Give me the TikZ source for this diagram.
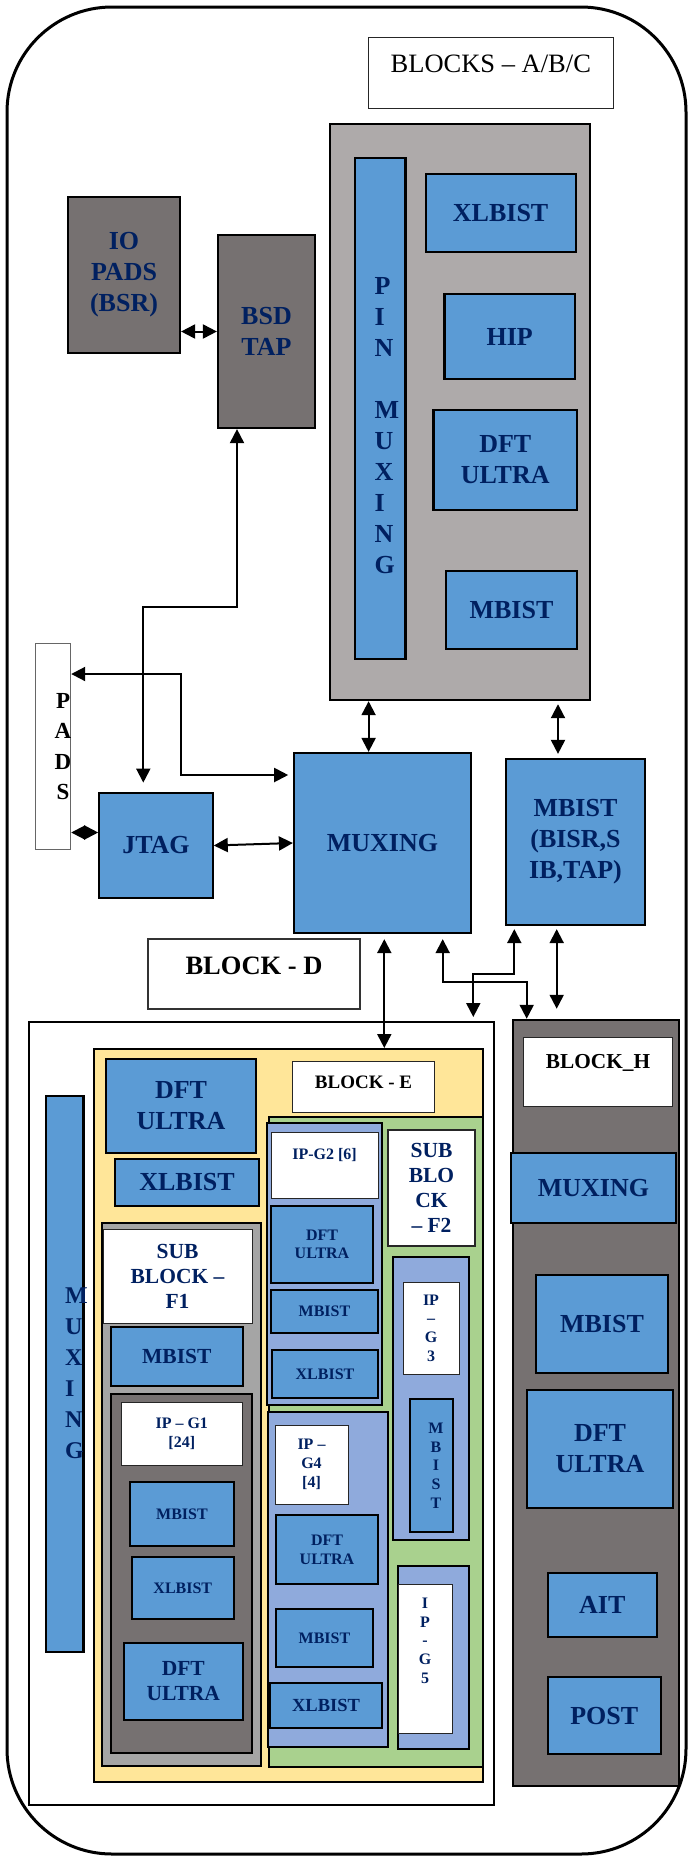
\documentclass[tikz,border=0pt]{standalone}
\usepackage{fontspec}
\setmainfont{Liberation Serif}
\usepackage{xcolor}
\usepackage{tikz}
\usetikzlibrary{arrows.meta, positioning, calc}

\definecolor{boxblue}{HTML}{5B9BD5}
\definecolor{navy}{HTML}{002060}
\definecolor{darkgrey}{HTML}{767171}
\definecolor{abcgrey}{HTML}{AEAAAA}
\definecolor{subgrey}{HTML}{A5A5A5}
\definecolor{blockyellow}{HTML}{FFE699}
\definecolor{blockgreen}{HTML}{A9D18E}
\definecolor{ipblue}{HTML}{8FAADC}

\tikzset{
    txtbig/.style={font=\bfseries\fontsize{26}{31}\selectfont, text=navy, inner sep=0pt},
    txtmid/.style={font=\bfseries\fontsize{21.5}{25}\selectfont, text=navy, inner sep=0pt},
    txtsmall/.style={font=\bfseries\fontsize{16}{18.7}\selectfont, text=navy, inner sep=0pt},
    dims/.style 2 args={minimum width=#1pt, minimum height=#2pt},
    blk/.style={draw, line width=2.2pt, fill=boxblue, align=center, txtbig},
    area/.style={draw, line width=2pt, inner sep=0pt},
    tag/.style={draw=black!85, line width=1pt, fill=white, inner sep=0pt},
    link/.style={<->, >={Triangle[length=14pt, width=14pt]}, line width=2pt},
}

\begin{document}
\begin{tikzpicture}[x=1pt, y=-1pt]
    \useasboundingbox (0, 0) rectangle (688, 1856);
    \draw[line width=3pt, rounded corners=105pt] (7, 7) rectangle (686, 1854);

    \node[tag, dims={244.4}{70.6}, label={[inner sep=0pt, font=\fontsize{26.5}{31}\selectfont, anchor=base, yshift=-35.6pt]north:BLOCKS – A/B/C}] (abctag) at (490.8, 73) {};
    \node[area, fill=abcgrey, line width=2.4pt, dims={260}{576}] (abc) at (460, 412) {};
    \node[blk, dims={50.5}{501}, label={[txtbig, align=left, anchor=north west, xshift=20.5pt, yshift=-120.3pt]north west:{P\\I\\N\\[31pt]M\\U\\X\\I\\N\\G}}] (pinmux) at (380.25, 408.5) {};
    \node[blk, dims={150}{78}] (xlbistabc) at (500.65, 213) {XLBIST};
    \node[blk, dims={130.5}{85}] (hip) at (509.75, 336.5) {HIP};
    \node[blk, dims={143.5}{100}] (dftabc) at (505.25, 460) {DFT\\ULTRA};
    \node[blk, dims={131}{78}] (mbistabc) at (511.5, 610) {MBIST};

    \node[blk, fill=darkgrey, dims={112}{156}] (iopads) at (124, 275) {IO\\PADS\\(BSR)};
    \node[blk, fill=darkgrey, dims={97}{193}] (bsdtap) at (266.5, 331.5) {BSD\\TAP};
    \node[draw=black!60, line width=1pt, fill=white, dims={35.7}{206}, label={[txtbig, text=black, font=\bfseries\fontsize{23}{30.5}\selectfont, align=center, anchor=north, xshift=10.2pt, yshift=-50.3pt]north:{P\\A\\D\\S}}] (pads) at (52.85, 746) {};
    \node[blk, dims={177}{180}] (muxing) at (382.5, 843) {MUXING};
    \node[blk, dims={139}{166}] (mbistbisr) at (575.5, 842) {MBIST\\(BISR,S\\IB,TAP)};
    \node[blk, dims={113.4}{105.6}] (jtag) at (156, 845.5) {JTAG};
    \node[tag, draw=black!80, line width=1.5pt, dims={212}{70}, label={[txtbig, text=black, font=\bfseries\fontsize{26.5}{31}\selectfont, anchor=base, yshift=-36pt]north:BLOCK - D}] (blockdtag) at (254, 974) {};

    \node[area, fill=white, dims={464.2}{783}] (blockd) at (261.5, 1413.5) {};
    \node[area, fill=darkgrey, line width=2.5pt, dims={166}{766}] (blockh) at (596, 1403) {};
    \node[tag, dims={149}{69}, label={[txtbig, text=black, font=\bfseries\fontsize{21.3}{25}\selectfont, anchor=base, yshift=-31.6pt]north:BLOCK\_H}] (blockhtag) at (598, 1072.2) {};
    \node[blk, dims={165}{70}] (muxh) at (593.5, 1188) {MUXING};
    \node[blk, dims={132}{98}] (mbisth) at (602, 1324) {MBIST};
    \node[blk, dims={146}{118}] (dfth) at (600, 1449) {DFT\\ULTRA};
    \node[blk, dims={109.4}{64}] (aith) at (602.3, 1605) {AIT};
    \node[blk, dims={113.4}{77}] (posth) at (604.3, 1715.5) {POST};

    \node[area, fill=blockyellow, dims={389.2}{733}] (blocke) at (288.1, 1415.5) {};
    \node[tag, dims={141.7}{51}, label={[txtbig, text=black, font=\bfseries\fontsize{19}{22}\selectfont, anchor=base, yshift=-28pt]north:BLOCK - E}] (blocketag) at (363.55, 1086.5) {};
    \node[blk, dims={150}{94}] (dfte) at (181, 1106) {DFT\\ULTRA};
    \node[blk, dims={144}{47}] (xlbiste) at (187, 1182.5) {XLBIST};
    \node[blk, dims={37.8}{556}, label={[txtbig, font=\bfseries\fontsize{24}{31}\selectfont, align=left, anchor=north west, xshift=20.5pt, yshift=-193pt]north west:{M\\U\\X\\I\\N\\G}}] (muxd) at (64.5, 1374) {};

    \node[area, fill=blockgreen, dims={214.2}{650}] (f2) at (375.6, 1442) {};
    \node[area, fill=ipblue, line width=2.5pt, dims={115}{282}] (ipg2) at (324.5, 1264) {};
    \node[tag, dims={107}{66}, label={[txtsmall, anchor=base, yshift=-27.7pt]north:{IP-G2 [6]}}] (ipg2tag) at (324.5, 1165) {};
    \node[blk, txtsmall, dims={102}{77}] (dftg2) at (322, 1244.2) {DFT\\ULTRA};
    \node[blk, txtsmall, dims={107}{43}] (mbistg2) at (324.5, 1311.5) {MBIST};
    \node[blk, txtsmall, dims={106}{48}] (xlbistg2) at (325, 1374) {XLBIST};
    \node[tag, line width=1.3pt, txtmid, align=center, dims={87}{116}] (f2tag) at (431.5, 1188) {SUB\\BLO\\CK\\– F2};
    \node[area, fill=ipblue, dims={75.9}{283}] (ipg3) at (430.65, 1398.5) {};
    \node[tag, txtsmall, align=center, dims={56}{92}] (ipg3tag) at (431, 1328) {IP\\–\\G\\3};
    \node[blk, dims={43}{133}, label={[txtsmall, align=center, anchor=north, xshift=4.5pt, yshift=-25pt]north:{M\\B\\I\\S\\T}}] (mbistg3) at (431.5, 1465.5) {};
    \node[area, fill=ipblue, dims={120.3}{335}] (ipg4) at (327.85, 1579.5) {};
    \node[tag, txtsmall, align=center, dims={73}{79}] (ipg4tag) at (311.5, 1464.5) {IP –\\G4\\{[4]}};
    \node[blk, txtsmall, dims={102}{69}] (dftg4) at (327, 1549.5) {DFT\\ULTRA};
    \node[blk, txtsmall, dims={97}{58}] (mbistg4) at (324.5, 1638) {MBIST};
    \node[blk, txtsmall, font=\bfseries\fontsize{18.5}{22}\selectfont, dims={112}{45}] (xlbistg4) at (326, 1705.5) {XLBIST};
    \node[area, fill=ipblue, dims={70.6}{183}] (ipg5) at (433.3, 1657.5) {};
    \node[tag, dims={54}{149}, label={[txtsmall, align=center, anchor=north, yshift=-14.3pt]north:{I\\P\\-\\G\\5}}] (ipg5tag) at (425, 1658.5) {};

    \node[area, fill=subgrey, dims={159}{543}] (f1) at (181.5, 1494.5) {};
    \node[tag, txtmid, align=center, dims={149}{94}] (f1tag) at (177.5, 1276) {SUB\\BLOCK –\\F1};
    \node[blk, txtmid, dims={131.6}{59}] (mbistf1) at (176.8, 1356.5) {MBIST};
    \node[area, fill=darkgrey, dims={141}{359}] (ipg1) at (181.5, 1573.5) {};
    \node[tag, txtsmall, align=center, dims={120.5}{63}] (ipg1tag) at (181.75, 1433.5) {IP – G1\\{[24]}};
    \node[blk, txtsmall, dims={104}{64}] (mbistg1) at (182, 1514) {MBIST};
    \node[blk, txtsmall, dims={102.4}{62}] (xlbistg1) at (182.8, 1588) {XLBIST};
    \node[blk, txtmid, dims={118.6}{77}] (dftg1) at (183.3, 1681.5) {DFT\\ULTRA};

    \draw[link] (iopads.east |- bsdtap.west) -- (bsdtap.west);
    \draw[link, shorten >=9pt] ([xshift=-29.5pt]bsdtap.south) -- ++(0, 178) -| ([xshift=-12.7pt]jtag.north);
    \draw[link, shorten >=4.7pt] ([yshift=72pt]pads.east) -- ++(110, 0) |- ([yshift=68pt]muxing.west);
    \draw[link] ([yshift=13pt]pads.east |- jtag.west) -- ([yshift=13pt]jtag.west);
    \draw[link] (jtag.east) -- (muxing.west);
    \draw[link] ([xshift=-91.4pt]abc.south) -- ([xshift=-13.9pt]muxing.north);
    \draw[link, shorten <=3pt, shorten >=4pt] ([xshift=98pt]abc.south) -- ([xshift=-17.5pt]mbistbisr.north);
    \draw[link, shorten <=5pt] ([xshift=1.8pt]muxing.south) -- ([xshift=96.2pt]blocke.north);
    \draw[link, shorten <=5pt] ([xshift=60.2pt]muxing.south) -- ++(0, 48) -| ([xshift=-69.3pt]blockh.north);
    \draw[link, shorten <=3pt, shorten >=4pt] ([xshift=-61.2pt]mbistbisr.south) -- ++(0, 47.7) -| ([xshift=211.8pt]blockd.north);
    \draw[link, shorten <=3pt, shorten >=10pt] ([xshift=-18.8pt]mbistbisr.south) -- ([xshift=-39.3pt]blockh.north);
\end{tikzpicture}
\end{document}
